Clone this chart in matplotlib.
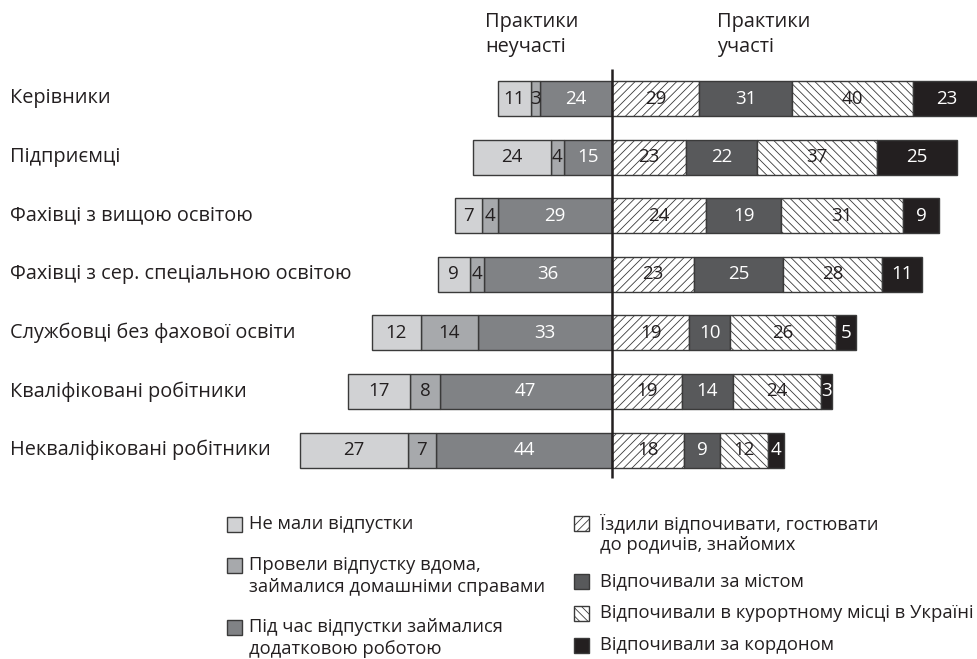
import matplotlib
matplotlib.use("Agg")
import matplotlib.pyplot as plt
from matplotlib.patches import Rectangle

plt.rcParams['font.family'] = ['Open Sans', 'DejaVu Sans']
plt.rcParams['hatch.linewidth'] = 0.6

# Occupational groups
categories = [
    'Керівники',
    'Підприємці',
    'Фахівці з вищою освітою',
    'Фахівці з сер. спеціальною освітою',
    'Службовці без фахової освіти',
    'Кваліфіковані робітники',
    'Некваліфіковані робітники',
]

# Practices of non-participation (%), drawn leftwards from the centre line
no_vacation = [11, 24, 7, 9, 12, 17, 27]
at_home = [3, 4, 4, 4, 14, 8, 7]
extra_work = [24, 15, 29, 36, 33, 47, 44]

# Practices of participation (%), drawn rightwards from the centre line
visited = [29, 23, 24, 23, 19, 19, 18]
out_of_town = [31, 22, 19, 25, 10, 14, 9]
resort = [40, 37, 31, 28, 26, 24, 12]
abroad = [23, 25, 9, 11, 5, 3, 4]

left_series = [
    (extra_work, '#808285', None, 'white'),
    (at_home, '#a7a9ac', None, '#231f20'),
    (no_vacation, '#d1d2d4', None, '#231f20'),
]
right_series = [
    (visited, 'white', '////', '#231f20'),
    (out_of_town, '#58595b', None, 'white'),
    (resort, 'white', '\\\\\\\\', '#231f20'),
    (abroad, '#231f20', None, 'white'),
]

W, H = 978, 659
fig = plt.figure(figsize=(W / 100, H / 100), dpi=100)
ax = fig.add_axes([0, 0, 1, 1])

cx, unit = 612.0, 484.0          # centre line and full-row width in pixels
y0, dy = 98.5, 58.6              # first row centre and row pitch in pixels
ax.set_xlim(-cx / unit, (W - cx) / unit)
ax.set_ylim((H - y0) / dy, -y0 / dy)
ax.axis('off')

bar_h = 0.6
edge = '#3a3a3a'
fs_num = 13.5
fs_cat = 14.3
fs_leg = 13.2

for i in range(len(categories)):
    total = sum(s[0][i] for s in left_series) + sum(s[0][i] for s in right_series)
    # left stack
    pos = 0.0
    for vals, color, hatch, tcolor in left_series:
        w = vals[i] / total
        ax.barh(i, -w, left=-pos, height=bar_h, color=color, edgecolor=edge,
                linewidth=1.0, hatch=hatch, zorder=2)
        ax.text(-pos - w / 2, i, str(vals[i]), ha='center', va='center',
                color=tcolor, fontsize=fs_num, zorder=4)
        pos += w
    # right stack
    pos = 0.0
    for vals, color, hatch, tcolor in right_series:
        w = vals[i] / total
        ax.barh(i, w, left=pos, height=bar_h, color=color, edgecolor=edge,
                linewidth=1.0, hatch=hatch, zorder=2)
        ax.text(pos + w / 2, i, str(vals[i]), ha='center', va='center',
                color=tcolor, fontsize=fs_num, zorder=4)
        pos += w
    ax.text(10 / unit - cx / unit, i, categories[i], ha='left', va='center',
            fontsize=fs_cat, color='#231f20')

# centre divider
ax.plot([0, 0], [(69 - y0) / dy, (478 - y0) / dy], color='#231f20',
        linewidth=1.8, zorder=5, solid_capstyle='butt')

# overlay in pixel coordinates for headers and legend
ov = fig.add_axes([0, 0, 1, 1])
ov.set_xlim(0, W)
ov.set_ylim(H, 0)
ov.axis('off')
ov.patch.set_alpha(0)

for x, lines in [(485, ['Практики', 'неучасті']), (717, ['Практики', 'участі'])]:
    for k, line in enumerate(lines):
        ov.text(x, 22 + k * 25, line, fontsize=fs_cat, va='center', ha='left',
                color='#231f20')

sq = 15
legend_left = [
    ('#d1d2d4', None, 524, ['Не мали відпустки']),
    ('#a7a9ac', None, 565, ['Провели відпустку вдома,', 'займалися домашніми справами']),
    ('#808285', None, 627, ['Під час відпустки займалися', 'додатковою роботою']),
]
legend_right = [
    ('white', '////', 523, ['Їздили відпочивати, гостювати', 'до родичів, знайомих']),
    ('#58595b', None, 581, ['Відпочивали за містом']),
    ('white', '\\\\\\\\', 613, ['Відпочивали в курортному місці в Україні']),
    ('#231f20', None, 645, ['Відпочивали за кордоном']),
]
for items, sx, tx in [(legend_left, 227, 249), (legend_right, 574, 600)]:
    for color, hatch, yc, lines in items:
        ov.add_patch(Rectangle((sx, yc - sq / 2), sq, sq, facecolor=color,
                               edgecolor=edge, linewidth=1.0, hatch=hatch))
        for k, line in enumerate(lines):
            ov.text(tx, yc + k * 22, line, fontsize=fs_leg, va='center', ha='left',
                    color='#231f20')

fig.savefig('out.png', dpi=100)
